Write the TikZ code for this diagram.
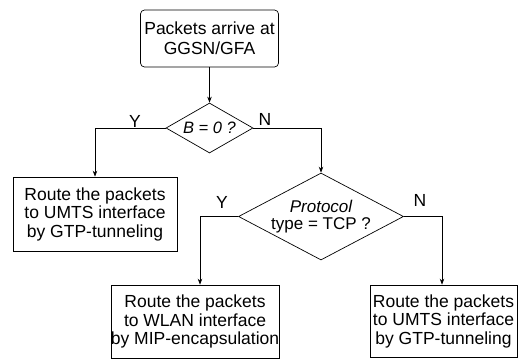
\documentclass[tikz,border=0pt]{standalone}
\usepackage{fontspec}
\setmainfont{Liberation Sans}
\usetikzlibrary{shapes.geometric,arrows.meta}
\begin{document}
\begin{tikzpicture}[x=1pt,y=-1pt,
  every node/.style={font=\fontsize{17.5}{18.5}\selectfont},
  box/.style={draw, line width=0.7pt, align=center, inner sep=0pt, minimum width=#1},
  dec/.style={draw, shape=diamond, line width=0.7pt, align=center, inner sep=0pt},
  lbl/.style={inner sep=0pt},
  conn/.style={line width=0.7pt, -{Stealth[length=6pt,width=4.5pt]}}
]
\useasboundingbox (0,0) rectangle (526,359);
\node[box=138pt, rounded corners=4pt, minimum height=57pt, font=\fontsize{17.5}{20}\selectfont] (start) at (209.5,38.5) {Packets arrive at\\GGSN/GFA};
\node[dec, minimum width=87pt, minimum height=50pt, shape aspect=1.74, font=\fontsize{16.5}{18}\selectfont] (d1) at (209.5,128) {\itshape B = 0 ?};
\node[dec, minimum width=165pt, minimum height=87pt, shape aspect=1.9, font=\fontsize{17}{17.5}\selectfont] (d2) at (321,216.5) {{\itshape Protocol}\\type = TCP ?};
\node[box=164pt, minimum height=74pt] (lb) at (95,214) {Route the packets\\to UMTS interface\\by GTP-tunneling};
\node[box=168pt, minimum height=73pt] (bl) at (195,321.5) {Route the packets\\to WLAN interface\\by MIP-encapsulation};
\node[box=147pt, minimum height=72pt] (br) at (443.5,321) {Route the packets\\to UMTS interface\\by GTP-tunneling};
\draw[conn] (start) -- (d1);
\draw[conn] (d1.west) -| (lb.north);
\draw[conn] (d1.east) -| (d2.north);
\draw[conn] (d2.west) -| ([xshift=5pt]bl.north);
\draw[conn] (d2.east) -| ([xshift=-1.5pt]br.north);
\node[lbl] (y1) at (135,121) {Y};
\node[lbl] (n1) at (265,119) {N};
\node[lbl] (y2) at (222,202) {Y};
\node[lbl] (n2) at (420,200) {N};
\end{tikzpicture}
\end{document}
